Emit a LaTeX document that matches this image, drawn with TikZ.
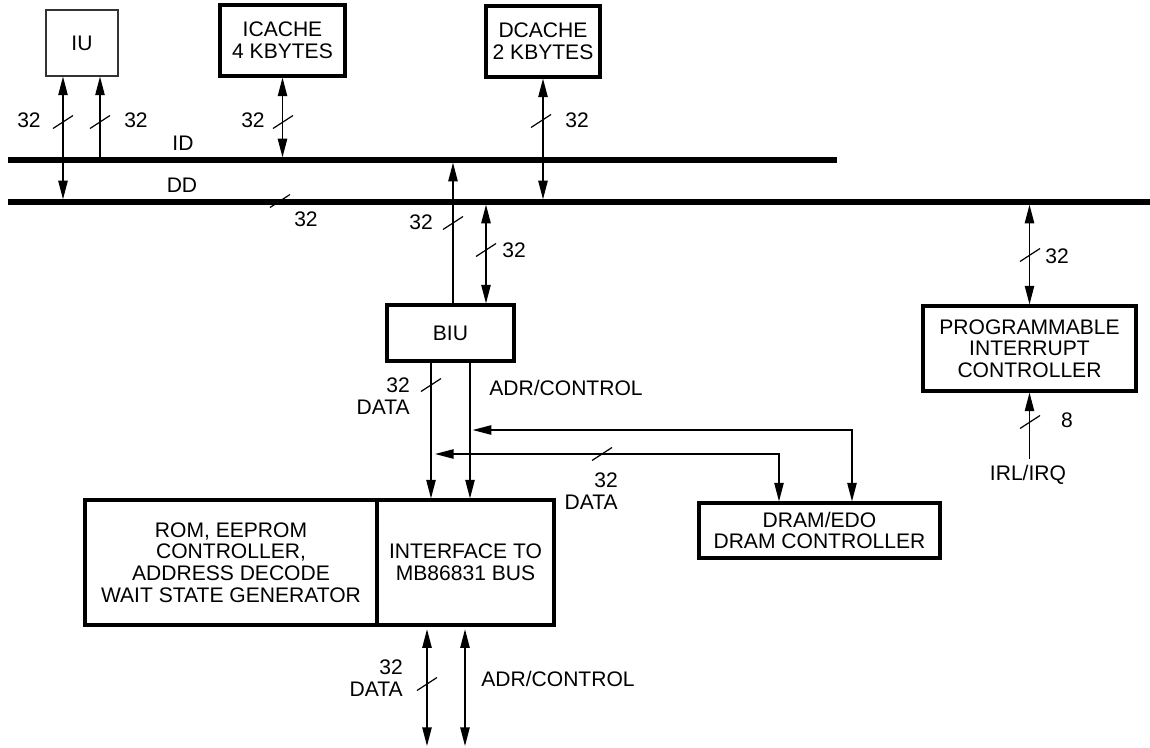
\documentclass[tikz,border=0pt]{standalone}
\usepackage{fontspec}
\setmainfont{Liberation Sans}
\usetikzlibrary{positioning,calc,arrows.meta}

\begin{document}
\begin{tikzpicture}[
    x=0.75pt, y=-0.75pt,
    font=\fontsize{15.8}{16.2}\selectfont,
    box/.style={draw=black, line width=2.3pt, align=center, inner sep=0pt},
    thinbox/.style={draw=black!80, line width=0.8pt, align=center, inner sep=0pt},
    bus/.style={line width=3.9pt},
    sig/.style={line width=1.1pt, >={Triangle[length=14pt,width=7pt]}},
    slash/.style={line width=0.9pt},
    lbl/.style={inner sep=0pt, align=center}
]
\useasboundingbox (0,0) rectangle (1150,747);

% Units
\node[thinbox, minimum width=54pt, minimum height=49.5pt] (iu) at (82,43) {IU};
\node[box, minimum width=93.75pt, minimum height=53.25pt] (icache) at (282.5,40.5) {ICACHE\\4 KBYTES};
\node[box, minimum width=85.5pt, minimum height=53.25pt] (dcache) at (543,41.5) {DCACHE\\2 KBYTES};
\node[box, minimum width=95.25pt, minimum height=42pt] (biu) at (450.5,333) {BIU};
\node[box, minimum width=159.75pt, minimum height=63.75pt] (pic) at (1029.5,348.5) {PROGRAMMABLE\\INTERRUPT\\CONTROLLER};
\node[box, minimum width=180.75pt, minimum height=41.25pt] (dram) at (819.5,530.5) {DRAM/EDO\\DRAM CONTROLLER};
\node[box, minimum width=219pt, minimum height=93.75pt] (rom) at (231,562.5) {ROM, EEPROM\\CONTROLLER,\\ADDRESS DECODE\\WAIT STATE GENERATOR};
\node[box, minimum width=132.75pt, minimum height=93.75pt] (iface) at (465.5,562.5) {INTERFACE TO\\MB86831 BUS};

% Buses
\coordinate (idw) at (8,160);
\coordinate (ide) at (837,160);
\coordinate (ddw) at (8,202);
\coordinate (dde) at (1150,202);
\draw[bus] (idw) -- (ide);
\draw[bus] (ddw) -- (dde);
\node[lbl] (idlbl) at (183,143) {ID};
\node[lbl] (ddlbl) at (182,185) {DD};

% IU and caches
\coordinate (iua) at ($(iu.south)+(-19,0)$);
\coordinate (iub) at ($(iu.south)+(18,0)$);
\draw[sig,<->,shorten >=2pt] (iua) -- (iua |- ddw);
\draw[sig,->] (iub |- idw) -- (iub);
\draw[sig,<->,shorten >=2pt] (icache.south) -- (icache.south |- idw);
\draw[sig,<->,shorten >=2pt] (dcache.south) -- (dcache.south |- ddw);

% BIU to buses
\coordinate (biua) at ($(biu.north)+(2.5,0)$);
\coordinate (biub) at ($(biu.north)+(35.5,0)$);
\draw[sig,->,shorten >=2pt] (biua) -- (biua |- idw);
\draw[sig,<->,shorten <=2pt] (biub |- ddw) -- (biub);

% BIU to interface and DRAM
\coordinate (biuc) at ($(biu.south)+(-19.5,0)$);
\coordinate (biud) at ($(biu.south)+(19.5,0)$);
\coordinate (drama) at ($(dram.north)+(-40.5,0)$);
\coordinate (dramb) at ($(dram.north)+(32.5,0)$);
\coordinate (adry) at (0,430);
\coordinate (daty) at (0,454);
\draw[sig,->] (biuc) -- (biuc |- iface.north);
\draw[sig,->] (biud) -- (biud |- iface.north);
\draw[sig,<->,shorten <=2pt] (biud |- adry) -- (dramb |- adry) -- (dramb);
\draw[sig,<->,shorten <=3pt] (biuc |- daty) -- (drama |- daty) -- (drama);

% External bus
\coordinate (ifa) at ($(iface.south)+(-38.5,0)$);
\coordinate (ifb) at ($(iface.south)+(-0.5,0)$);
\coordinate (bot) at (0,746);
\draw[sig,<->,shorten <=2pt] (ifa) -- (ifa |- bot);
\draw[sig,<->,shorten <=2pt] (ifb) -- (ifb |- bot);

% Interrupts
\coordinate (irq) at ($(pic.south)+(0,66)$);
\draw[sig,<->,shorten <=2pt] (pic.north |- ddw) -- (pic.north);
\draw[sig,->] (irq) -- (pic.south);

% Width marks
\foreach \p in {(63,122),(100,122),(283,122),(541,121),(280,201),(453,223),(486,250),(431,385),(602,454),(427,684),(1030,255),(1030,422)}
    \draw[slash] \p ++(-10,6.5) -- ++(20,-13);

% Labels
\node[lbl] (w1) at (29,120) {32};
\node[lbl] (w2) at (136,120) {32};
\node[lbl] (w3) at (253,120) {32};
\node[lbl] (w4) at (577,120) {32};
\node[lbl] (w5) at (306,219) {32};
\node[lbl] (w6) at (421,222) {32};
\node[lbl] (w7) at (514,250) {32};
\node[lbl, anchor=east, align=right] (w8) at (410,396) {32\\DATA};
\node[lbl] (ctl1) at (566,388) {ADR/CONTROL};
\node[lbl, anchor=east, align=right] (w9) at (618,491) {32\\DATA};
\node[lbl, anchor=east, align=right] (w10) at (403,678) {32\\DATA};
\node[lbl] (ctl2) at (558,679) {ADR/CONTROL};
\node[lbl] (w11) at (1057,256) {32};
\node[lbl] (w12) at (1067,420) {8};
\node[lbl] (irqlbl) at (1028,475) {IRL/IRQ};

\end{tikzpicture}
\end{document}
